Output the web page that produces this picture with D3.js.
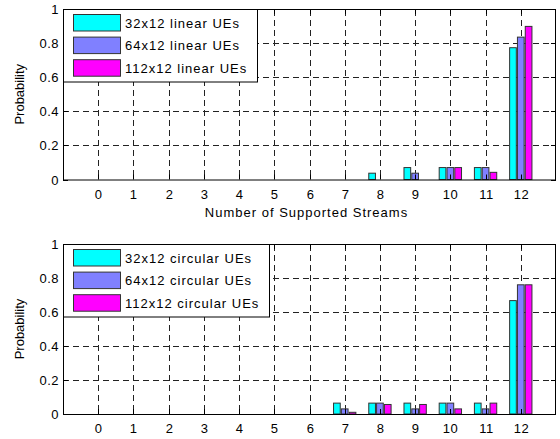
<!DOCTYPE html>
<html><head><meta charset="utf-8">
<script src="https://cdn.jsdelivr.net/npm/d3@7"></script>
<style>
body{margin:0;background:#fff;}
svg{display:block;}
text{font-family:"Liberation Sans",Arial,sans-serif;fill:#000;}
</style></head>
<body>
<svg id="chart" width="560" height="439"></svg>
<script>
const streams = [0,1,2,3,4,5,6,7,8,9,10,11,12];
const yTicks = [0,0.2,0.4,0.6,0.8,1];
const yTickLabels = ["0","0.2","0.4","0.6","0.8","1"];

const linearNames = ["32x12 linear UEs","64x12 linear UEs","112x12 linear UEs"];
const linear32  = [0,0,0,0,0,0,0,0,0.037,0.07,0.07,0.07,0.773];
const linear64  = [0,0,0,0,0,0,0,0,0,0.037,0.07,0.07,0.835];
const linear112 = [0,0,0,0,0,0,0,0,0,0,0.07,0.042,0.898];

const circularNames = ["32x12 circular UEs","64x12 circular UEs","112x12 circular UEs"];
const circular32  = [0,0,0,0,0,0,0,0.064,0.064,0.064,0.064,0.064,0.667];
const circular64  = [0,0,0,0,0,0,0,0.03,0.064,0.03,0.064,0.03,0.76];
const circular112 = [0,0,0,0,0,0,0,0.01,0.056,0.056,0.03,0.064,0.76];

const colors = ["#00ffff","#8080ff","#ff00ff"];
const xTitle = "Number of Supported Streams";
const yTitle = "Probability";

const svg = d3.select("#chart");

function panel(cfg){
  const {top, bottom, left, right, series, names, legendW, showXTitle} = cfg;
  const x = d3.scaleLinear().domain([-1,13]).range([left,right]);
  const y = d3.scaleLinear().domain([0,1]).range([bottom,top]);
  const g = svg.append("g");
  const gridG = g.append("g").attr("class","grid");

  // grid
  streams.forEach(s=>{
    const xx = Math.round(x(s))+0.5;
    gridG.append("path")
      .attr("d",`M${xx},${top+1}V${bottom}`)
      .attr("fill","none")
      .attr("stroke","#222").attr("stroke-width",1).attr("stroke-dasharray","6,4");
  });
  yTicks.filter(v=>v>0&&v<1).forEach(v=>{
    const yy = Math.round(y(v))+0.5;
    gridG.append("path")
      .attr("d",`M${left},${yy}H${right}`)
      .attr("fill","none")
      .attr("stroke","#222").attr("stroke-width",1).attr("stroke-dasharray","6,4");
  });

  // bars
  const offsets = [-0.222,0,0.222];
  const bw = 0.19;
  series.forEach((vals,si)=>{
    g.append("g").selectAll("rect").data(vals.map((v,i)=>({c:streams[i],v})).filter(d=>d.v>0)).enter().append("rect")
      .attr("x",d=>x(d.c+offsets[si]-bw/2))
      .attr("width",x(bw)-x(0))
      .attr("y",d=>y(d.v))
      .attr("height",d=>y(0)-y(d.v))
      .attr("fill",colors[si])
      .attr("stroke","#333").attr("stroke-width",1);
  });

  // axes box
  g.append("rect").attr("x",left+0.5).attr("y",top+0.5)
    .attr("width",right-left-1).attr("height",bottom-top)
    .attr("fill","none").attr("stroke","#000").attr("stroke-width",1);

  // ticks inside
  const tl = 5;
  streams.forEach(s=>{
    const xx = Math.round(x(s))+0.5;
    g.append("line").attr("x1",xx).attr("x2",xx).attr("y1",bottom).attr("y2",bottom-tl).attr("stroke","#000");
    g.append("line").attr("x1",xx).attr("x2",xx).attr("y1",top).attr("y2",top+tl).attr("stroke","#000");
  });
  yTicks.forEach(v=>{
    const yy = Math.round(y(v))+0.5;
    g.append("line").attr("x1",left).attr("x2",left+tl).attr("y1",yy).attr("y2",yy).attr("stroke","#000");
    g.append("line").attr("x1",right-tl).attr("x2",right).attr("y1",yy).attr("y2",yy).attr("stroke","#000");
  });

  // tick labels
  g.append("g").selectAll("text").data(streams).enter().append("text")
    .attr("x",d=>Math.round(x(d))+0.5).attr("y",bottom+19)
    .attr("text-anchor","middle").attr("font-size",13).attr("letter-spacing","0.5px")
    .text(d=>d);
  g.append("g").selectAll("text").data(yTicks).enter().append("text")
    .attr("x",left-4).attr("y",d=>y(d)+5)
    .attr("text-anchor","end").attr("font-size",13).attr("letter-spacing","0.5px")
    .text((d,i)=>yTickLabels[i]);

  // y title
  g.append("text").attr("transform",`translate(24,${(top+bottom)/2}) rotate(-90)`)
    .attr("text-anchor","middle").attr("font-size",13).text(yTitle);
  if(showXTitle){
    g.append("text").attr("x",(left+right)/2-3).attr("y",bottom+37)
      .attr("text-anchor","middle").attr("font-size",13).attr("letter-spacing","1px").text(xTitle);
  }

  // legend
  const lg = g.append("g");
  lg.append("rect").attr("x",left+0.5).attr("y",top+0.5).attr("width",legendW).attr("height",72.5)
    .attr("fill","#fff").attr("stroke","#000").attr("stroke-width",1);
  names.forEach((n,i)=>{
    const yy = top + 5 + i*22.6;
    lg.append("rect").attr("x",left+10.5).attr("y",yy+0.5).attr("width",47).attr("height",16.5)
      .attr("fill",colors[i]).attr("stroke","#333").attr("stroke-width",1);
    lg.append("text").attr("x",left+62).attr("y",yy+13.5).attr("font-size",13)
      .attr("letter-spacing","1px").text(n);
  });
}

panel({top:9, bottom:179.5, left:63, right:556,
  series:[linear32,linear64,linear112], names:linearNames, legendW:194, showXTitle:true});
panel({top:244, bottom:414, left:63, right:556,
  series:[circular32,circular64,circular112], names:circularNames, legendW:206, showXTitle:false});
</script>
</body></html>
